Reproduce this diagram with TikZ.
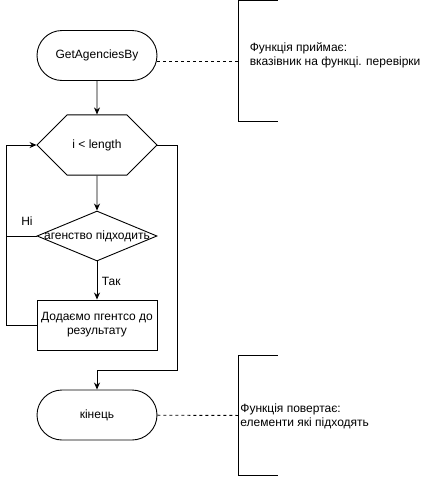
\documentclass[tikz,border=0pt]{standalone}
\usepackage{fontspec}
\setmainfont{Liberation Sans}
\usetikzlibrary{shapes.geometric, shapes.misc, arrows.meta, positioning}

\begin{document}
\begin{tikzpicture}[
    x=1pt, y=-1pt,
    font=\fontsize{12}{14}\selectfont,
    line width=0.9pt,
    term/.style={rectangle, draw, rounded corners=25pt, minimum width=120pt, minimum height=50pt},
    loopbox/.style={chamfered rectangle, draw, chamfered rectangle xsep=20pt, chamfered rectangle ysep=25pt, minimum width=120pt, minimum height=50pt, inner sep=0pt},
    decision/.style={diamond, draw, aspect=2.4, minimum width=120pt, minimum height=50pt, inner sep=0pt},
    process/.style={rectangle, draw, minimum width=120pt, minimum height=50pt, align=center},
    note/.style={minimum width=39pt, inner sep=0pt, anchor=north west},
    arrow/.style={->, >={Stealth[length=7pt, width=6pt]}}
]
    \useasboundingbox (0,0) rectangle (428,477);

    \node (start) [term] at (97,55.5) {GetAgenciesBy};
    \node (loop) [loopbox] at (97,145) {i < length};
    \node (check) [decision, label={center:агенство підходить}] at (97,236) {};
    \node (add) [process] at (97,325) {Додаємо пгентсо до\\результату};
    \node (stop) [term] at (97,415) {кінець};

    \node (no) at (27,221) {Ні};
    \node (yes) [anchor=west] at (98,281) {Так};

    \node (note1) [note, minimum height=120pt] at (238,0.5) {};
    \node (note1txt) [anchor=west, align=left] at (246,55) {Функція приймає:\\вказівник на функці. перевірки};
    \node (note2) [note, minimum height=120pt] at (238,355) {};
    \node (note2txt) [anchor=west, align=left, inner sep=1pt] at (239,416) {Функція повертає:\\елементи які підходять};
    \coordinate (exit) at (177,370);

    \draw [arrow] (start) -- (loop);
    \draw [arrow] (loop) -- (check);
    \draw [arrow] (check) -- (add);
    \draw (check.west) -- ++(-30,0);
    \draw [arrow] (add.west) -- ++(-30,0) |- (loop.west);
    \draw [arrow] (loop.east) -| (exit) -| (stop.north);

    \draw (note1.north east) -- (note1.north west) -- (note1.south west) -- (note1.south east);
    \draw (note2.north east) -- (note2.north west) -- (note2.south west) -- (note2.south east);
    \draw [dashed] (note1.west -| start.east) -- (note1.west);
    \draw [dashed] (stop) -- (note2.west);
\end{tikzpicture}
\end{document}
